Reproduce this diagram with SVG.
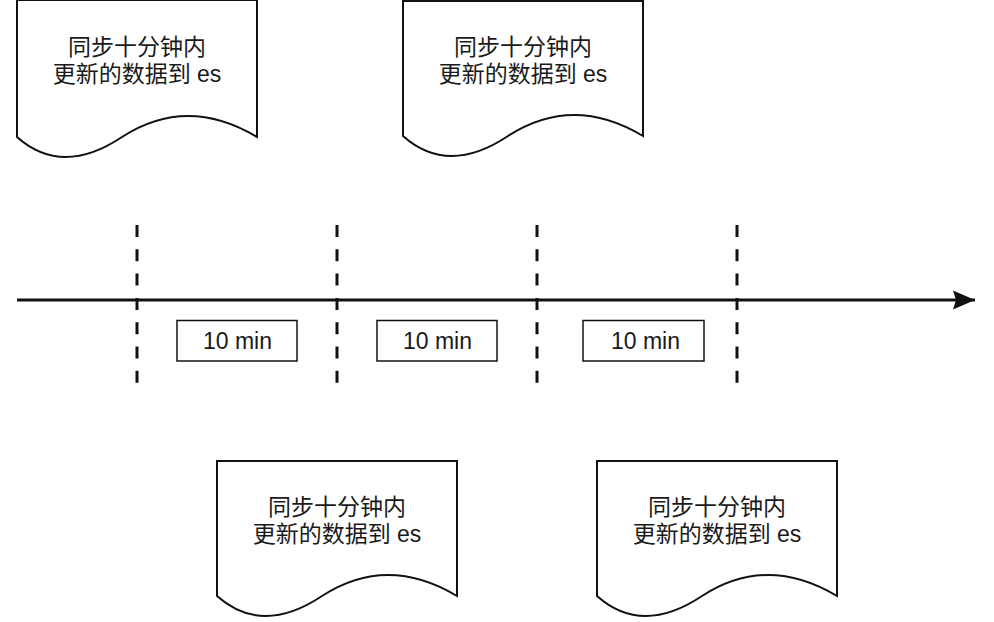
<svg xmlns="http://www.w3.org/2000/svg" width="994" height="622" viewBox="0 0 994 622">
  <style>
    .doc { fill: #ffffff; stroke: #111111; stroke-width: 2; }
    .doctext { font-family: "Liberation Sans", "Noto Sans CJK SC", sans-serif; font-size: 23px; fill: #1a1a1a; text-anchor: middle; }
    .box { fill: #ffffff; stroke: #111111; stroke-width: 1.5; }
    .boxtext { font-family: "Liberation Sans", Arial, sans-serif; font-size: 23px; fill: #1a1a1a; text-anchor: middle; }
    .tick { stroke: #111111; stroke-width: 3; stroke-dasharray: 12 12.3; fill: none; }
    .axis { stroke: #111111; stroke-width: 3; fill: none; }
  </style>
  <defs>
    <marker id="arrow" markerUnits="userSpaceOnUse" markerWidth="24" markerHeight="22" refX="22" refY="11" orient="auto">
      <path d="M0,1.5 L22,11 L0,20.5 L3,11 Z" fill="#111111"/>
    </marker>
  </defs>
  <rect width="994" height="622" fill="#ffffff"/>

  <g id="connectors">
    <line class="axis" x1="17" y1="300" x2="975" y2="300" marker-end="url(#arrow)"/>
    <line class="tick" x1="137" y1="225" x2="137" y2="383"/>
    <line class="tick" x1="337" y1="225" x2="337" y2="383"/>
    <line class="tick" x1="537" y1="225" x2="537" y2="383"/>
    <line class="tick" x1="737" y1="225" x2="737" y2="383"/>
  </g>

  <g id="doc1">
    <path class="doc" d="M17,0 H257 V137 Q187,95 122,137 Q62,177 17,137 Z"/>
    <text class="doctext" x="137" y="55">同步十分钟内</text>
    <text class="doctext" x="137" y="82">更新的数据到 es</text>
  </g>
  <g id="doc2">
    <path class="doc" d="M403,1 H643 V136 Q573,94 508,136 Q448,176 403,136 Z"/>
    <text class="doctext" x="523" y="55">同步十分钟内</text>
    <text class="doctext" x="523" y="82">更新的数据到 es</text>
  </g>
  <g id="doc3">
    <path class="doc" d="M217,461 H457 V596 Q387,554 322,596 Q262,636 217,596 Z"/>
    <text class="doctext" x="337" y="515">同步十分钟内</text>
    <text class="doctext" x="337" y="542">更新的数据到 es</text>
  </g>
  <g id="doc4">
    <path class="doc" d="M597,461 H837 V596 Q767,554 702,596 Q642,636 597,596 Z"/>
    <text class="doctext" x="717" y="515">同步十分钟内</text>
    <text class="doctext" x="717" y="542">更新的数据到 es</text>
  </g>

  <g id="box1">
    <rect class="box" x="177" y="320.5" width="120" height="40.5"/>
    <text class="boxtext" x="237.5" y="349">10 min</text>
  </g>
  <g id="box2">
    <rect class="box" x="377" y="320.5" width="120" height="40.5"/>
    <text class="boxtext" x="437.5" y="349">10 min</text>
  </g>
  <g id="box3">
    <rect class="box" x="583" y="320.5" width="121" height="40.5"/>
    <text class="boxtext" x="645.5" y="349">10 min</text>
  </g>
</svg>
